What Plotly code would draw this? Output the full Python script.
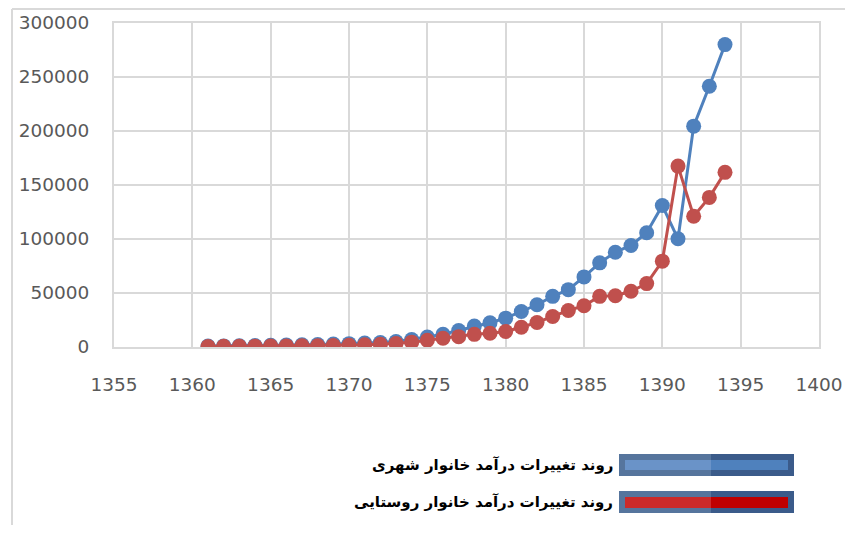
import plotly.graph_objects as go

years = list(range(1361, 1395))
urban = [900, 1000, 1200, 1400, 1600, 1800, 2000, 2300, 2700, 3100,
         3600, 4200, 5000, 6900, 9300, 11800, 15300, 19500, 22500, 26700,
         32900, 39100, 46900, 53100, 64900, 77900, 87800, 94000, 105800, 131000,
         100200, 204500, 241500, 280000]
rural = [500, 600, 700, 800, 900, 1000, 1100, 1200, 1400, 1600,
         2000, 2500, 3300, 4500, 6200, 8100, 9600, 11700, 12800, 14300,
         18300, 22700, 28300, 33800, 38200, 46900, 47500, 51600, 58700, 79500,
         167500, 121000, 138500, 161700]
urban_name = "روند تغییرات درآمد خانوار شهری"
rural_name = "روند تغییرات درآمد خانوار روستایی"

OFF = 8  # page body margin
W, H = 853 - 2 * OFF, 533 - 2 * OFF
ML, MT = 114 - OFF, 23 - OFF
MR = W - (819 - OFF)
MB = H - (347 - OFF)
PW, PH = W - ML - MR, H - MT - MB

def px(x):  # reference pixel -> paper x
    return (x - OFF - ML) / PW

def py(y):  # reference pixel -> paper y
    return (H - MB - (y - OFF)) / PH

fig = go.Figure()
fig.add_trace(go.Scatter(x=years, y=urban, name=urban_name, mode="lines+markers",
                         line=dict(color="#4f81bd", width=3),
                         marker=dict(color="#4f81bd", size=15)))
fig.add_trace(go.Scatter(x=years, y=rural, name=rural_name, mode="lines+markers",
                         line=dict(color="#c0504d", width=3),
                         marker=dict(color="#c0504d", size=15)))

tickfont = dict(family="DejaVu Sans", size=18.5, color="#595959")
fig.update_layout(
    width=W, height=H, showlegend=False,
    margin=dict(l=ML, r=MR, t=MT, b=MB, pad=0),
    paper_bgcolor="white", plot_bgcolor="white",
    xaxis=dict(range=[1355, 1400], dtick=5, tick0=1355, showgrid=True,
               gridcolor="#d9d9d9", gridwidth=2, zeroline=False,
               showline=True, linecolor="#d9d9d9", linewidth=2, mirror=True,
               tickfont=tickfont, ticks="", ticklabelstandoff=20,
               automargin=False),
    yaxis=dict(range=[0, 300000], dtick=50000, showgrid=True,
               gridcolor="#d9d9d9", gridwidth=2, zeroline=False,
               showline=True, linecolor="#d9d9d9", linewidth=2, mirror=True,
               tickfont=tickfont, ticks="", ticklabelstandoff=19,
               tickformat="d", automargin=False),
)

shapes = []
# chart border (top and left)
shapes.append(dict(type="line", xref="paper", yref="paper", x0=px(12), x1=px(853),
                   y0=py(9), y1=py(9), line=dict(color="#d9d9d9", width=2)))
shapes.append(dict(type="line", xref="paper", yref="paper", x0=px(12), x1=px(12),
                   y0=py(9), y1=py(533), line=dict(color="#d9d9d9", width=2)))

def legend_box(y_top, y_bot, inner_top, inner_bot, c_left, c_right):
    x0, xm, x1 = 619, 711, 794
    shapes.append(dict(type="rect", xref="paper", yref="paper", x0=px(x0), x1=px(xm),
                       y0=py(y_bot), y1=py(y_top), fillcolor="#56759d", line=dict(width=0)))
    shapes.append(dict(type="rect", xref="paper", yref="paper", x0=px(xm), x1=px(x1),
                       y0=py(y_bot), y1=py(y_top), fillcolor="#3b5b8a", line=dict(width=0)))
    shapes.append(dict(type="rect", xref="paper", yref="paper", x0=px(625), x1=px(xm),
                       y0=py(inner_bot), y1=py(inner_top), fillcolor=c_left, line=dict(width=0)))
    shapes.append(dict(type="rect", xref="paper", yref="paper", x0=px(xm), x1=px(788),
                       y0=py(inner_bot), y1=py(inner_top), fillcolor=c_right, line=dict(width=0)))

legend_box(454, 476, 460, 470, "#6a93c8", "#4f81bd")
legend_box(491, 513, 497, 508, "#cc2a2a", "#c00000")

anns = [
    dict(xref="paper", yref="paper", x=px(615), y=py(465), xanchor="right", yanchor="middle",
         text="<b>" + urban_name + "</b>", showarrow=False,
         font=dict(family="DejaVu Sans", size=15, color="#000000")),
    dict(xref="paper", yref="paper", x=px(615), y=py(502), xanchor="right", yanchor="middle",
         text="<b>" + rural_name + "</b>", showarrow=False,
         font=dict(family="DejaVu Sans", size=15, color="#000000")),
]
fig.update_layout(shapes=shapes, annotations=anns)
fig.write_html("out.html")
